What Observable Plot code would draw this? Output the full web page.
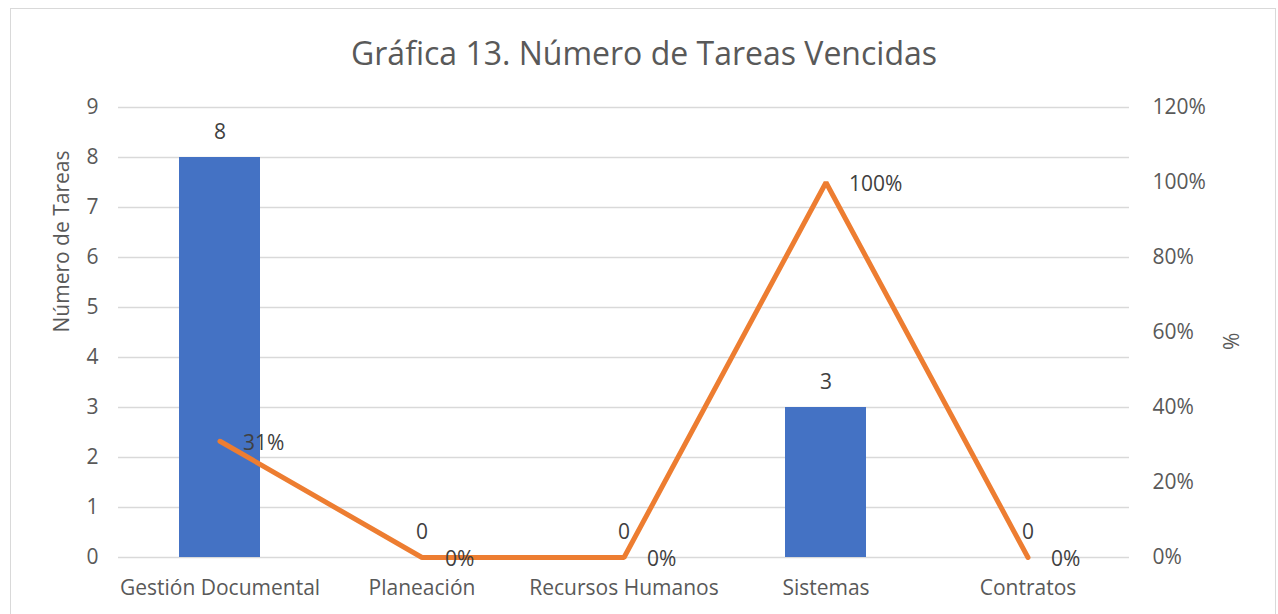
<!DOCTYPE html>
<html>
<head>
<meta charset="utf-8">
<script src="https://cdn.jsdelivr.net/npm/d3@7"></script>
<script src="https://cdn.jsdelivr.net/npm/@observablehq/plot@0.6"></script>
<style>
  html, body { margin: 0; padding: 0; background: #fff; }
  #wrap { position: relative; width: 1278px; height: 614px; overflow: hidden; font-family: "Open Sans", sans-serif; }
  #frame { position: absolute; left: 10px; top: 8px; width: 1266px; height: 620px; border: 1px solid #d9d9d9; box-sizing: border-box; }
  #title { position: absolute; left: 0; width: 1288px; top: 31px; text-align: center; font-size: 32px; color: #595959; line-height: 44px; }
  #chart { position: absolute; left: 0; top: 0; }
</style>
</head>
<body>
<div id="wrap">
  <div id="frame"></div>
  <div id="chart"></div>
  <div id="title">Gráfica 13. Número de Tareas Vencidas</div>
</div>
<script>
const categories = ["Gestión Documental", "Planeación", "Recursos Humanos", "Sistemas", "Contratos"];
const tareas = [8, 0, 0, 3, 0];
const porcentaje = [0.31, 0, 0, 1.0, 0];
const leftTicks = [0, 1, 2, 3, 4, 5, 6, 7, 8, 9];
const rightTicks = [0, 0.2, 0.4, 0.6, 0.8, 1.0, 1.2];

const yMax = 9, pMax = 1.2;
const k = yMax / pMax;

const data = categories.map((c, i) => ({ cat: c, n: tareas[i], p: porcentaje[i], py: porcentaje[i] * k }));

const textColor = "#595959";
const labelColor = "#404040";
const fs = 21;

const chart = Plot.plot({
  width: 1278,
  height: 614,
  marginLeft: 118,
  marginRight: 149,
  marginTop: 107,
  marginBottom: 57,
  style: { fontFamily: "'Open Sans', sans-serif", fontSize: fs + "px", color: textColor, background: "transparent", overflow: "visible" },
  x: { domain: categories, paddingInner: 0.6, paddingOuter: 0.3, label: null },
  y: { domain: [0, yMax], label: null },
  marks: [
    Plot.gridY(leftTicks, { stroke: "#d9d9d9", strokeOpacity: 1, strokeWidth: 1.5 }),
    Plot.barY(data, { x: "cat", y: "n", fill: "#4472C4" }),
    Plot.lineY(data, { x: "cat", y: "py", stroke: "#ED7D31", strokeWidth: 5, strokeLinecap: "round", strokeLinejoin: "miter" }),
    Plot.text(data, { x: "cat", y: "n", text: d => String(d.n), dy: -25, fill: labelColor, fontSize: fs }),
    Plot.text(data, { x: "cat", y: "py", text: d => Math.round(d.p * 100) + "%", dx: 23, dy: 2, textAnchor: "start", fill: labelColor, fontSize: fs }),
    Plot.axisY(leftTicks, { anchor: "left", tickSize: 0, tickPadding: 20, fontSize: fs, fill: textColor, tickFormat: d => String(d), label: null }),
    Plot.axisY(rightTicks.map(p => p * k), { anchor: "right", tickSize: 0, tickPadding: 23, fontSize: fs, fill: textColor, textAnchor: "start", tickFormat: d => Math.round(d / k * 100) + "%", label: null }),
    Plot.axisX({ tickSize: 0, tickPadding: 23, fontSize: fs, fill: textColor, label: null }),
    Plot.text(["Número de Tareas"], { frameAnchor: "left", dx: -56, rotate: -90, fontSize: fs, fill: textColor }),
    Plot.text(["%"], { frameAnchor: "right", dx: 103, rotate: -90, fontSize: fs, fill: textColor })
  ]
});
document.getElementById("chart").appendChild(chart);
</script>
</body>
</html>
